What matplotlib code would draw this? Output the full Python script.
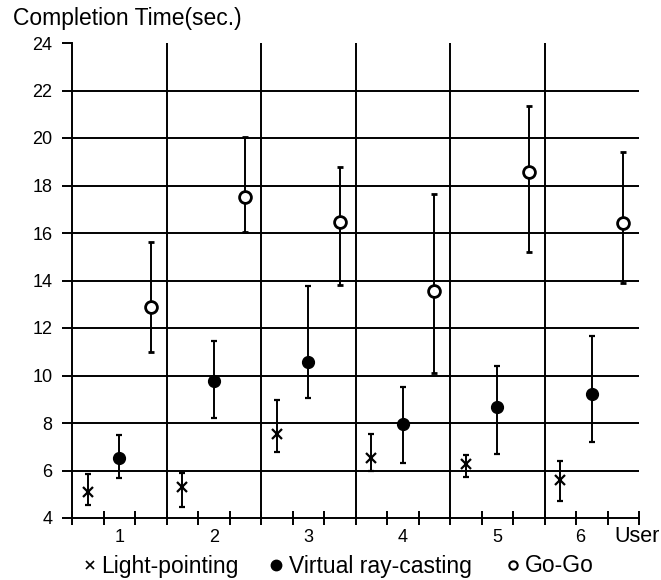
import matplotlib.pyplot as plt
from matplotlib.lines import Line2D

plt.rcParams['font.family'] = ['Liberation Sans', 'DejaVu Sans']

users = [1, 2, 3, 4, 5, 6]

# Light-pointing: mean, lower end, upper end of the error bar
light_mean = [5.08, 5.32, 7.52, 6.54, 6.26, 5.60]
light_low = [4.55, 4.48, 6.79, 5.98, 5.71, 4.73]
light_high = [5.84, 5.88, 8.97, 7.54, 6.65, 6.40]

# Virtual ray-casting
ray_mean = [6.51, 9.77, 10.58, 7.96, 8.66, 9.22]
ray_low = [5.67, 8.22, 9.04, 6.33, 6.68, 7.21]
ray_high = [7.49, 11.45, 13.77, 9.53, 10.41, 11.68]

# Go-Go
gogo_mean = [12.87, 17.53, 16.48, 13.57, 18.58, 16.41]
gogo_low = [11.00, 16.03, 13.81, 10.09, 15.19, 13.91]
gogo_high = [15.63, 20.05, 18.79, 17.63, 21.35, 19.42]

yticks = [4, 6, 8, 10, 12, 14, 16, 18, 20, 22, 24]

W, H = 661, 580
fig = plt.figure(figsize=(W/100, H/100), dpi=100)
ax = fig.add_axes([72/W, 1-518/H, (639-72)/W, (518-43)/H])

def errs(mean, low, high):
    return [[m - l for m, l in zip(mean, low)], [h - m for m, h in zip(mean, high)]]

off = 1/3
ax.errorbar([u - off for u in users], light_mean, yerr=errs(light_mean, light_low, light_high),
            fmt='x', color='black', ms=6.5, mew=1.6, elinewidth=1.4, capsize=2.5, capthick=1.6, zorder=5)
ax.errorbar(users, ray_mean, yerr=errs(ray_mean, ray_low, ray_high),
            fmt='o', color='black', ms=8.5, elinewidth=1.4, capsize=2.5, capthick=1.6, zorder=5)
ax.errorbar([u + off for u in users], gogo_mean, yerr=errs(gogo_mean, gogo_low, gogo_high),
            fmt='o', color='black', mfc='white', ms=8.5, mew=2, elinewidth=1.4, capsize=2.5,
            capthick=1.6, zorder=5)

# grid: horizontal at every tick, vertical between users
for y in yticks[1:-1]:
    ax.axhline(y, color='black', lw=1.4, zorder=1)
for u in users[:-1]:
    ax.axvline(u + 0.5, color='black', lw=1.4, zorder=1)

ax.set_xlim(0.5, 6.5)
ax.set_ylim(4, 24)
ax.set_yticks(yticks)
ax.tick_params(axis='y', direction='out', length=7, width=1.4, labelsize=13, pad=7)

bounds = [u - 0.5 for u in users] + [6.5]
minor = [u + d for u in users for d in (-1/6, 1/6)]
ax.set_xticks(bounds + minor)
ax.set_xticklabels([])
ax.tick_params(axis='x', direction='inout', length=10, width=1.4)

for u in users:
    dx = -0.12 if u == 6 else 0
    ax.text(u + dx, 3.2, str(u), ha='center', va='center', fontsize=13)
fig.text(614/W, 1-536/H, 'User', ha='left', va='center', fontsize=15.5)

for s in ['top', 'right']:
    ax.spines[s].set_visible(False)
ax.spines['left'].set_linewidth(1.4)
ax.spines['bottom'].set_linewidth(1.4)

fig.text(13/W, 1-19/H, 'Completion Time(sec.)', ha='left', va='center', fontsize=16.5)

# legend row, drawn by hand
ly = 1 - 566/H
legend_items = [
    ('Light-pointing', 90, 101, dict(marker='x', ms=6, mew=1.2, color='black')),
    ('Virtual ray-casting', 276, 289, dict(marker='o', ms=7.5, color='black')),
    ('Go-Go', 513, 525, dict(marker='o', ms=6, mew=1.5, color='black', mfc='white')),
]
for label, mx, tx, style in legend_items:
    fig.add_artist(Line2D([mx/W], [ly + 1/H], ls='none', transform=fig.transFigure, **style))
    fig.text(tx/W, ly, label, ha='left', va='center', fontsize=16.5)

fig.savefig('out.png', dpi=100)
